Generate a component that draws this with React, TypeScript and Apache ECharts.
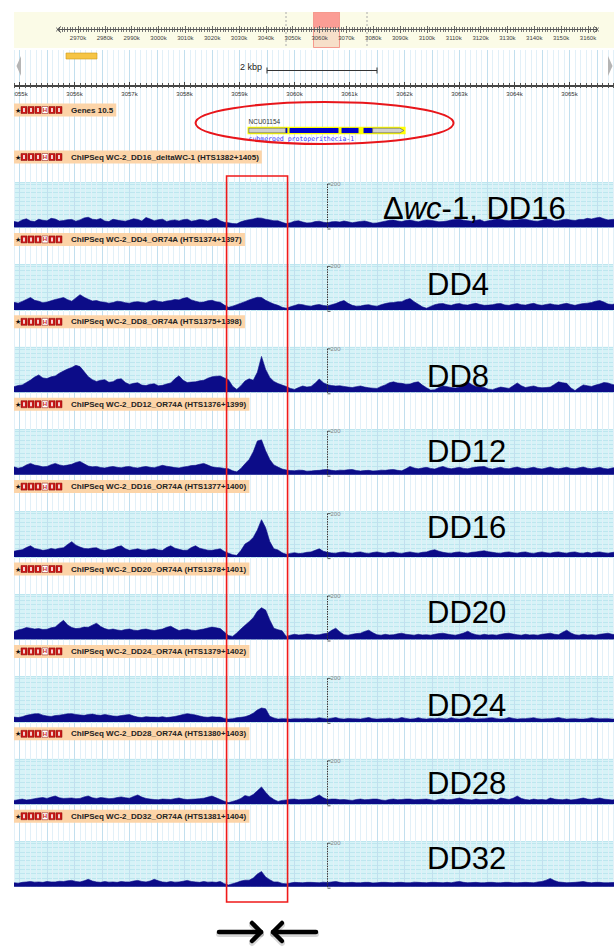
import React, { useEffect, useRef } from "react";
import * as echarts from "echarts";

// ---------------- data ----------------
const BIN_START_KB = 3054.9; // genomic position (kb) of the first bin
const BIN_KB = 0.075; // bin width (kb)

// ChIP-seq read depth per bin (counts), one array per track
const DELTA_WC1_DD16 = [28,24,35,40,30,27,38,33,31,42, 39,30,32,36,37,29,35,44,47,38, 36,41,30,27,38,34,31,29,34,40, 37,30,46,39,31,36,38,28,32,35, 30,36,38,29,32,37,35,30,39,42, 31,24,22,18,17,26,32,36,39,44, 43,38,35,31,31,24,18,22,29,31, 25,21,22,27,29,24,22,26,27,25, 30,26,22,25,28,30,25,20,21,25, 29,33,34,30,27,32,34,30,26,31, 35,33,30,26,27,30,34,37,38,33, 31,29,33,36,27,31,35,39,38,33, 31,35,34,38,38,33,30,29,33,39, 37,30,31,36,38,34,32,37,37,42, 39,44,47,40,35,37,38];
const OR74A_DD4 = [35,31,39,48,57,44,40,33,36,42, 48,52,57,47,40,55,70,58,49,41, 43,37,35,31,34,40,38,33,31,36, 38,35,32,40,44,39,36,41,43,48, 46,53,57,46,40,35,36,42,44,38, 35,22,12,17,24,31,38,46,52,58, 57,44,35,27,21,12,8,14,20,26, 24,19,17,22,25,20,18,24,29,37, 43,30,21,17,18,22,24,19,17,24, 29,33,34,37,38,47,52,38,26,14, 8,16,24,28,29,24,21,27,29,24, 22,27,30,25,21,22,24,28,29,23, 21,26,29,24,22,27,30,24,21,25, 28,24,22,27,30,25,21,26,29,31, 34,40,43,36,27,25,29];
const OR74A_DD8 = [26,31,34,45,56,70,80,66,63,71, 75,88,98,107,114,124,118,95,72,58, 50,55,58,46,49,60,62,45,36,41, 44,33,31,37,39,30,32,38,43,62, 76,55,45,47,48,53,55,65,71,74, 75,66,58,28,13,30,52,62,55,92, 165,105,68,50,40,33,27,18,13,22, 29,24,27,42,61,44,35,31,29,30, 27,24,22,26,29,24,21,19,18,27, 34,44,48,43,41,37,38,45,48,33, 21,10,12,22,29,26,22,20,24,38, 48,35,27,25,22,14,12,19,24,21, 18,30,43,30,22,26,29,23,21,22, 24,36,48,44,41,20,8,22,34,30, 27,33,38,45,43,36,32];
const OR74A_DD12 = [36,30,34,45,52,44,41,36,38,46, 52,45,41,44,48,56,61,50,40,36, 38,33,31,35,38,34,32,36,38,33, 31,35,38,34,32,38,43,39,36,33, 31,35,38,42,43,48,52,44,36,33, 32,29,27,18,13,28,50,70,105,155, 160,110,70,45,35,26,22,19,18,21, 20,16,17,19,20,23,24,20,18,21, 20,23,24,19,17,19,20,17,18,21, 20,23,24,20,18,27,38,31,27,31, 34,29,26,33,38,31,27,31,34,29, 27,32,35,37,38,30,26,31,34,29, 27,32,35,30,27,31,34,29,26,31, 35,30,27,31,34,29,27,32,35,30, 27,31,34,29,26,31,34];
const OR74A_DD16 = [27,31,34,44,52,40,36,31,34,40, 36,41,43,58,71,55,46,40,38,42, 43,34,31,35,38,47,52,38,31,35, 38,33,32,36,38,33,31,44,52,41, 36,31,32,44,52,41,36,32,31,35, 38,26,18,11,8,30,60,72,90,125, 172,135,72,38,33,20,13,17,20,16, 18,22,24,31,38,27,22,19,18,22, 24,20,18,22,24,19,17,21,24,20, 18,22,24,19,17,21,24,20,18,22, 24,30,34,27,22,19,18,22,24,20, 18,22,24,27,29,25,22,19,18,22, 24,20,18,22,24,19,17,21,24,20, 18,22,24,20,18,22,24,19,18,22, 18,22,24,20,18,21,24];
const OR74A_DD20 = [36,44,48,55,52,48,50,46,47,54, 57,74,88,67,55,50,52,57,56,66, 75,60,50,45,48,44,41,46,48,43, 41,46,48,44,41,45,48,56,61,50, 41,46,48,43,41,45,48,53,57,54, 50,34,18,14,30,48,65,82,100,130, 146,135,90,52,45,40,14,20,24,21, 22,25,24,21,22,26,29,42,52,35, 22,20,24,27,29,37,43,31,22,20, 24,21,22,26,29,24,22,20,24,21, 22,20,24,27,29,25,22,20,24,30, 38,28,22,20,24,21,22,20,24,27, 29,25,22,20,24,21,22,20,24,26, 29,24,22,33,43,30,22,20,24,21, 22,20,24,26,29,24,22];
const OR74A_DD24 = [22,20,24,30,34,37,38,31,27,25, 29,31,34,37,38,34,32,30,34,36, 32,30,34,31,27,26,29,32,34,27, 22,20,24,22,22,21,24,20,22,25, 29,34,38,35,32,27,23,21,24,22, 22,16,13,15,19,21,24,30,40,55, 64,60,26,18,13,15,14,13,15,14, 14,16,14,15,19,16,13,17,20,15, 13,16,15,14,13,17,20,15,13,14, 15,17,13,15,20,16,13,14,19,15, 13,16,14,17,15,13,19,15,13,16, 20,16,13,14,15,18,19,15,13,14, 20,16,13,15,15,17,19,15,13,14, 15,17,20,16,13,14,15,13,13,15, 19,16,14,15,15,13,13];
const OR74A_DD28 = [18,21,24,20,22,26,29,31,27,33, 38,30,27,28,29,26,27,34,38,30, 27,31,29,26,27,31,34,30,28,36, 43,33,27,24,22,21,24,23,22,26, 29,24,22,23,24,26,28,33,38,30, 22,14,8,13,19,27,40,35,45,62, 80,55,35,22,13,18,20,23,24,21, 22,23,24,33,43,30,22,24,24,21, 22,20,18,22,24,21,22,24,24,20, 18,22,24,21,22,24,24,21,22,23, 24,21,18,22,24,21,22,25,29,24, 22,20,24,21,22,23,24,20,29,25, 22,28,38,27,22,20,24,21,22,20, 29,24,22,21,24,20,22,25,29,24, 22,26,29,24,22,20,22];
const OR74A_DD32 = [18,16,20,22,24,21,22,20,24,22, 22,25,24,27,29,24,22,27,34,26, 22,20,24,21,22,20,24,22,22,26, 29,24,22,26,34,27,22,20,24,21, 22,25,29,24,22,20,24,21,22,20, 24,14,8,14,19,26,30,30,40,58, 70,45,32,22,22,15,13,17,20,19, 18,20,20,19,18,21,19,22,24,20, 18,19,20,18,18,20,20,17,18,20, 20,19,18,20,20,18,18,21,20,19, 18,20,20,19,18,20,18,22,24,20, 18,19,20,18,18,20,20,18,18,20, 20,18,18,19,20,19,18,22,24,30, 38,28,22,20,18,19,20,22,24,20, 18,20,20,18,18,19,20];

const TRACK_VALUES = [DELTA_WC1_DD16, OR74A_DD4, OR74A_DD8, OR74A_DD12, OR74A_DD16, OR74A_DD20, OR74A_DD24, OR74A_DD28, OR74A_DD32];

const TRACK_TITLES = [
  "ChIPSeq WC-2_DD16_deltaWC-1 (HTS1382+1405)",
  "ChIPSeq WC-2_DD4_OR74A (HTS1374+1397)",
  "ChIPSeq WC-2_DD8_OR74A (HTS1375+1398)",
  "ChIPSeq WC-2_DD12_OR74A (HTS1376+1399)",
  "ChIPSeq WC-2_DD16_OR74A (HTS1377+1400)",
  "ChIPSeq WC-2_DD20_OR74A (HTS1378+1401)",
  "ChIPSeq WC-2_DD24_OR74A (HTS1379+1402)",
  "ChIPSeq WC-2_DD28_OR74A (HTS1380+1403)",
  "ChIPSeq WC-2_DD32_OR74A (HTS1381+1404)",
];
const TRACK_LABELS = ["{n|Δ}{i|wc}{n|-1, DD16}", "DD4", "DD8", "DD12", "DD16", "DD20", "DD24", "DD28", "DD32"];
const GENES_TITLE = "Genes 10.5";

const TRACK_MAX = 209;
const SCALE_MARK_LABEL = "200";

const VIEW_MIN_KB = 3054;
const VIEW_MAX_KB = 3066;
const OVERVIEW_MIN_K = 2960;
const OVERVIEW_MAX_K = 3170;
const RULER_STEP_KB = 1;
const OVERVIEW_STEP_K = 10;

const GENE_ID = "NCU01154";
const GENE_NAME = "submerged protoperithecia-1";
const GENE_PART_START = [3059.146, 3059.17, 3059.84, 3059.91, 3060.855, 3061.255, 3061.42];
const GENE_PART_END = [3062.02, 3059.84, 3059.87, 3060.8, 3061.164, 3061.42, 3061.99];
const GENE_PART_KIND = ["box", "utr", "cds", "cds", "cds", "cds", "utr3"];

const HIGHLIGHT_KB = [3058.765, 3059.874];
const ARROW_MEET_KB = 3059.5;
const SCALE_MARK_KB = 3060.6;
const SCALE_BAR_KBP = 2;

// ---------------- layout / style ----------------
const PAGE_W = 614;
const PAGE_H = 947;
const PANEL_X = 14;
const VIEW_LEFT_KB = 3054.9;
const KB_PX = 55;
const GRID_LEFT = PANEL_X - (VIEW_LEFT_KB - VIEW_MIN_KB) * KB_PX;
const GRID_WIDTH = (VIEW_MAX_KB - VIEW_MIN_KB) * KB_PX;
const OV_K_PX = 2.684;
const OV_LEFT = 78 - (2970 - OVERVIEW_MIN_K) * OV_K_PX;
const OV_WIDTH = (OVERVIEW_MAX_K - OVERVIEW_MIN_K) * OV_K_PX;
const HEADER_Y0 = 157;
const TRACK_STEP = 82.4;
const LABEL_X = [383, 427, 427, 427, 427, 427, 427, 427, 427];
const LABEL_Y = [208, 284, 376, 451, 527, 612, 705, 783, 858];
const NAVY = "#0c0c88";
const PEACH = "#fcd4a8";
const BEIGE = "#fbfbe7";
const FONT = "Liberation Sans";

function buildOption() {
  const grid: any[] = [];
  const xAxis: any[] = [];
  const yAxis: any[] = [];
  const series: any[] = [];
  const mkGrid = (o: any) => ({ outerBoundsMode: "none", containLabel: false, ...o });
  const hiddenY = (gi: number) => ({ type: "value", gridIndex: gi, min: 0, max: 1, show: false });
  const viewX = (gi: number, extra: any = {}) => ({
    type: "value", gridIndex: gi, min: VIEW_MIN_KB, max: VIEW_MAX_KB,
    axisLine: { show: false }, axisTick: { show: false }, axisLabel: { show: false }, splitLine: { show: false },
    ...extra,
  });

  // 0: background vertical grid lines
  grid.push(mkGrid({ left: GRID_LEFT, width: GRID_WIDTH, top: 50, height: 837 }));
  xAxis.push(viewX(0, {
    interval: 0.5,
    splitLine: { show: true, lineStyle: { color: "#c2dfee", width: 1 } },
    minorTick: { show: false, splitNumber: 5 },
    minorSplitLine: { show: true, lineStyle: { color: "#e2f0f8", width: 1 } },
  }));
  yAxis.push(hiddenY(0));

  // 1: position ruler
  grid.push(mkGrid({ left: GRID_LEFT, width: GRID_WIDTH, top: 85, height: 1 }));
  const rulerCommon = {
    type: "value", gridIndex: 1, min: VIEW_MIN_KB, max: VIEW_MAX_KB, interval: RULER_STEP_KB,
    axisLine: { show: true, lineStyle: { color: "#444", width: 1 } },
    axisTick: { show: true, length: 3, lineStyle: { color: "#444" } },
    minorTick: { show: true, splitNumber: 10, length: 2, lineStyle: { color: "#555" } },
    splitLine: { show: false },
  };
  xAxis.push({ ...rulerCommon, position: "bottom", axisLabel: { show: true, fontSize: 6, color: "#333", margin: 5, fontFamily: FONT, showMinLabel: false, formatter: (v: number) => `${v}k` } });
  xAxis.push({ ...rulerCommon, position: "top", axisLabel: { show: false } });
  yAxis.push(hiddenY(1));

  // 2: overview ruler
  grid.push(mkGrid({ left: OV_LEFT, width: OV_WIDTH, top: 29, height: 1 }));
  const ovCommon = {
    type: "value", gridIndex: 2, min: OVERVIEW_MIN_K, max: OVERVIEW_MAX_K, interval: OVERVIEW_STEP_K,
    axisLine: { show: false },
    axisTick: { show: true, length: 3, lineStyle: { color: "#666" } },
    minorTick: { show: true, splitNumber: 10, length: 2, lineStyle: { color: "#777" } },
    splitLine: { show: false },
  };
  xAxis.push({ ...ovCommon, position: "bottom", axisLabel: { show: true, fontSize: 6, color: "#444", margin: 5, fontFamily: FONT, showMinLabel: false, showMaxLabel: false, formatter: (v: number) => `${v}k` } });
  xAxis.push({ ...ovCommon, position: "top", axisLabel: { show: false } });
  yAxis.push(hiddenY(2));

  // 3: genes
  grid.push(mkGrid({ left: GRID_LEFT, width: GRID_WIDTH, top: 125.5, height: 10 }));
  xAxis.push(viewX(3));
  yAxis.push(hiddenY(3));
  series.push({
    type: "custom", xAxisIndex: 5, yAxisIndex: 3, z: 3, silent: true,
    data: GENE_PART_START.map((s, i) => [s, GENE_PART_END[i]]),
    encode: { x: [0, 1] },
    renderItem: (params: any, api: any) => {
      const s = api.coord([api.value(0), 0.5]);
      const e = api.coord([api.value(1), 0.5]);
      const kind = GENE_PART_KIND[params.dataIndex];
      const y = s[1];
      if (kind === "box") {
        return {
          type: "group",
          children: [
            { type: "rect", shape: { x: s[0], y: y - 3.8, width: e[0] - s[0], height: 7.6 }, style: { fill: "#ffff00" } },
            { type: "text", x: s[0] + 1, y: y - 9.5, style: { text: GENE_ID, fontSize: 6.5, fontFamily: FONT, fill: "#333", verticalAlign: "middle" } },
            { type: "text", x: s[0] + 1, y: y + 8.5, style: { text: GENE_NAME, fontSize: 6.5, fontFamily: "DejaVu Sans Mono", fill: "#3a3aff", verticalAlign: "middle" } },
          ],
        };
      }
      if (kind === "utr") {
        return { type: "rect", shape: { x: s[0], y: y - 2.3, width: e[0] - s[0], height: 4.6 }, style: { fill: "#d0d0d0", stroke: "#555", lineWidth: 0.6 } };
      }
      if (kind === "cds") {
        return { type: "rect", shape: { x: s[0], y: y - 2.6, width: e[0] - s[0], height: 5.2 }, style: { fill: "#0000cc" } };
      }
      return {
        type: "polygon",
        shape: { points: [[s[0], y - 2.3], [e[0] - 4, y - 2.3], [e[0], y], [e[0] - 4, y + 2.3], [s[0], y + 2.3]] },
        style: { fill: "#d0d0d0", stroke: "#555", lineWidth: 0.6 },
      };
    },
  });

  // 4..: ChIP-seq tracks
  TRACK_VALUES.forEach((vals, k) => {
    const gi = 4 + k;
    const hy = HEADER_Y0 + k * TRACK_STEP;
    grid.push(mkGrid({ left: GRID_LEFT, width: GRID_WIDTH, top: hy + 25, height: 45.5, show: true, backgroundColor: "#d6f3f7", borderWidth: 0 }));
    xAxis.push(viewX(gi));
    yAxis.push({
      type: "value", gridIndex: gi, min: 0, max: TRACK_MAX, interval: 20,
      axisLine: { show: false }, axisTick: { show: false }, axisLabel: { show: false },
      splitLine: { show: true, lineStyle: { color: "#bee6ef", width: 1 } },
    });
    series.push({
      type: "line", xAxisIndex: 6 + k, yAxisIndex: 4 + k, z: 3, silent: true,
      data: vals.map((v, i) => [BIN_START_KB + i * BIN_KB, v]),
      symbol: "none", smooth: false, sampling: undefined,
      lineStyle: { color: NAVY, width: 0.6 },
      areaStyle: { color: NAVY, opacity: 1 },
    });
  });

  return { animation: false, backgroundColor: "#ffffff", grid, xAxis, yAxis, series };
}

function header(g: any[], yc: number, title: string) {
  g.push({
    type: "text", x: PANEL_X, y: yc, z: 5,
    style: { text: title, fontSize: 8, fontWeight: "bold", fontFamily: FONT, fill: "#222", backgroundColor: PEACH, padding: [2, 3, 2, 57], verticalAlign: "middle", align: "left", lineHeight: 9 },
  });
  g.push({ type: "text", x: 14.5, y: yc, z: 6, style: { text: "★", fontSize: 7, fill: "#111", verticalAlign: "middle" } });
  for (let i = 0; i < 6; i++) {
    const x = 21 + i * 7;
    const white = i === 3;
    g.push({ type: "rect", z: 6, shape: { x, y: yc - 3.5, width: 6, height: 7 }, style: { fill: white ? "#fff" : "#c81818", stroke: "#8a0a0a", lineWidth: 0.5 } });
    if (white) {
      g.push({ type: "text", z: 7, x: x + 3, y: yc, style: { text: "H", fontSize: 6, fontWeight: "bold", fill: "#c81818", align: "center", verticalAlign: "middle" } });
    } else {
      g.push({ type: "rect", z: 7, shape: { x: x + 2, y: yc - 2, width: 2, height: 4 }, style: { fill: "#f3d0d0" } });
    }
  }
}

function arrowStyle(shadow: boolean) {
  return shadow
    ? { stroke: "rgba(0,0,0,0.16)", lineWidth: 6, fill: null, lineCap: "round", lineJoin: "round" }
    : { stroke: "#000", lineWidth: 4.5, fill: null, lineCap: "round", lineJoin: "round" };
}

function buildGraphic(chart: any) {
  const px = (kb: number) => chart.convertToPixel({ xAxisIndex: 0 }, kb) as number;
  const g: any[] = [];

  // overview panel
  g.push({ type: "rect", z: -10, shape: { x: PANEL_X, y: 12, width: PAGE_W - PANEL_X, height: 36 }, style: { fill: BEIGE } });
  [286, 367].forEach((x) => g.push({ type: "line", z: -9, shape: { x1: x, y1: 12, x2: x, y2: 48 }, style: { stroke: "#aaa", lineWidth: 1, lineDash: [2, 2] } }));
  g.push({ type: "rect", z: -8, shape: { x: 313, y: 12, width: 27, height: 16 }, style: { fill: "#fb9d95" } });
  g.push({ type: "rect", z: -8, shape: { x: 313, y: 28, width: 27, height: 20 }, style: { fill: "#f7dfc9" } });
  g.push({ type: "rect", z: -7, shape: { x: 313.5, y: 12.5, width: 26, height: 35 }, style: { fill: "none", stroke: "#f59a8e", lineWidth: 1 } });
  g.push({ type: "rect", z: 1, shape: { x: PANEL_X, y: 22, width: 42.5, height: 13 }, style: { fill: BEIGE } });
  g.push({ type: "rect", z: 1, shape: { x: 598.5, y: 22, width: 16, height: 13 }, style: { fill: BEIGE } });
  g.push({ type: "line", z: 2, shape: { x1: 57, y1: 29.5, x2: 598, y2: 29.5 }, style: { stroke: "#555", lineWidth: 1 } });
  g.push({ type: "polyline", z: 2, shape: { points: [[61, 26.5], [57, 29.5], [61, 32.5]] }, style: { stroke: "#555", fill: "none", lineWidth: 1 } });
  g.push({ type: "polyline", z: 2, shape: { points: [[594, 26.5], [598, 29.5], [594, 32.5]] }, style: { stroke: "#555", fill: "none", lineWidth: 1 } });

  // navigation / scale bar row
  g.push({ type: "polygon", z: 3, shape: { points: [[16.5, 66], [21, 56], [21, 76]] }, style: { fill: "#b5b5b5" } });
  g.push({ type: "polygon", z: 3, shape: { points: [[612.5, 66], [608, 56], [608, 76]] }, style: { fill: "#b5b5b5" } });
  g.push({ type: "rect", z: 3, shape: { x: 66, y: 53, width: 31, height: 6 }, style: { fill: "#f6c445", stroke: "#cf9c1a", lineWidth: 0.6 } });
  g.push({ type: "text", z: 3, x: 240, y: 67, style: { text: `${SCALE_BAR_KBP} kbp`, fontSize: 9, fontFamily: FONT, fill: "#222", verticalAlign: "middle" } });
  const barLen = px(VIEW_MIN_KB + SCALE_BAR_KBP) - px(VIEW_MIN_KB);
  const bx = 267;
  g.push({ type: "line", z: 3, shape: { x1: bx, y1: 70.5, x2: bx + barLen, y2: 70.5 }, style: { stroke: "#333", lineWidth: 1 } });
  [bx, bx + barLen].forEach((x) => g.push({ type: "line", z: 3, shape: { x1: x, y1: 67.5, x2: x, y2: 73.5 }, style: { stroke: "#333", lineWidth: 1 } }));

  // genes header + highlight ellipse
  header(g, 110, GENES_TITLE);
  const geneMid = px((GENE_PART_START[0] + GENE_PART_END[0]) / 2);
  g.push({ type: "ellipse", z: 10, shape: { cx: geneMid - 2, cy: 123, rx: 129, ry: 21 }, style: { fill: "none", stroke: "#e8161b", lineWidth: 2 } });

  // tracks
  const xm = px(SCALE_MARK_KB);
  TRACK_TITLES.forEach((title, k) => {
    const hy = HEADER_Y0 + k * TRACK_STEP;
    header(g, hy, title);
    g.push({ type: "line", z: 4, shape: { x1: xm, y1: hy + 27, x2: xm, y2: hy + 72 }, style: { stroke: "#333", lineWidth: 1, lineDash: [1.5, 1] } });
    g.push({ type: "line", z: 4, shape: { x1: xm, y1: hy + 27, x2: xm + 3, y2: hy + 27 }, style: { stroke: "#333", lineWidth: 0.8 } });
    g.push({ type: "line", z: 4, shape: { x1: xm, y1: hy + 72, x2: xm + 3, y2: hy + 72 }, style: { stroke: "#333", lineWidth: 0.8 } });
    g.push({ type: "text", z: 4, x: xm + 3, y: hy + 27, style: { text: SCALE_MARK_LABEL, fontSize: 6, fontFamily: FONT, fill: "#888", verticalAlign: "middle" } });
    g.push({
      type: "text", z: 8, x: LABEL_X[k], y: LABEL_Y[k],
      style: {
        text: TRACK_LABELS[k], fontSize: 31, fontFamily: FONT, fill: "#000", verticalAlign: "middle",
        rich: {
          n: { fontSize: 31, fontFamily: FONT, fill: "#000" },
          i: { fontSize: 31, fontFamily: FONT, fontStyle: "italic", fill: "#000" },
        },
      },
    });
  });

  // highlighted region + arrows
  const x1 = px(HIGHLIGHT_KB[0]);
  const x2 = px(HIGHLIGHT_KB[1]);
  g.push({ type: "rect", z: 12, shape: { x: x1, y: 176, width: x2 - x1, height: 726 }, style: { fill: "none", stroke: "#f01a1a", lineWidth: 1.6 } });
  const cx = px(ARROW_MEET_KB);
  const ay = 932;
  [true, false].forEach((shadow) => {
    const dy = shadow ? 2 : 0;
    const z = shadow ? 11 : 12;
    g.push({ type: "polyline", z, shape: { points: [[cx - 48, ay + dy], [cx - 6, ay + dy]] }, style: arrowStyle(shadow) });
    g.push({ type: "polyline", z, shape: { points: [[cx - 15, ay - 9 + dy], [cx - 6, ay + dy], [cx - 15, ay + 9 + dy]] }, style: arrowStyle(shadow) });
    g.push({ type: "polyline", z, shape: { points: [[cx + 6, ay + dy], [cx + 49, ay + dy]] }, style: arrowStyle(shadow) });
    g.push({ type: "polyline", z, shape: { points: [[cx + 15, ay - 9 + dy], [cx + 6, ay + dy], [cx + 15, ay + 9 + dy]] }, style: arrowStyle(shadow) });
  });

  // left page margin
  g.push({ type: "rect", z: 50, shape: { x: 0, y: 0, width: PANEL_X, height: PAGE_H }, style: { fill: "#fff" } });
  return g;
}

export default function App() {
  const ref = useRef<HTMLDivElement>(null);
  useEffect(() => {
    if (!ref.current) return;
    const chart = echarts.init(ref.current, undefined, { renderer: "svg" });
    chart.setOption(buildOption());
    chart.setOption({ graphic: { elements: buildGraphic(chart) } });
    return () => chart.dispose();
  }, []);
  return <div ref={ref} style={{ position: "absolute", left: 0, top: 0, width: PAGE_W, height: PAGE_H, background: "#fff" }} />;
}
